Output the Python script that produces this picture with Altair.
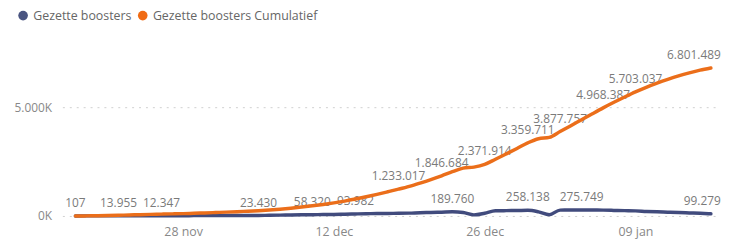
import altair as alt
import pandas as pd

FONT = "Open Sans"

start_date = "2021-11-18"
daily_boosters = [
    107, 3500, 6000, 8000, 13955, 14500, 13800, 13200, 12347, 11000,
    10500, 15000, 17000, 18000, 19500, 21000, 22000, 23430, 30000, 38000,
    45000, 52000, 58320, 65000, 72000, 80000, 93982, 105000, 112000, 118000,
    120876, 130000, 150000, 160000, 173667, 189760, 160000, 50000, 125470, 235000,
    245000, 249659, 258138, 190000, 60000, 268046, 272000, 275749, 274000, 268881,
    255000, 245000, 234650, 210000, 190000, 175000, 160000, 140000, 124173, 99279,
]
series_names = ["Gezette boosters", "Gezette boosters Cumulatief"]
series_colors = ["#414B7D", "#EB6E1A"]
legend_colors = ["#4A5581", "#F06B14"]
x_tick_dates = [(2021, 11, 28), (2021, 12, 12), (2021, 12, 26), (2022, 1, 9)]
y_ticks = [0, 5000000]
daily_label_idx = [0, 4, 8, 17, 22, 26, 35, 42, 47, 59]
cum_label_idx = [30, 34, 38, 42, 45, 49, 52, 59]

dates = pd.date_range(start_date, periods=len(daily_boosters))
cumulative = pd.Series(daily_boosters).cumsum().tolist()


def fmt(v):
    return f"{int(v):,}".replace(",", ".")


rows = []
for i, d in enumerate(dates):
    ds = d.strftime("%Y-%m-%dT00:00:00")
    rows.append(dict(date=ds, series=series_names[0], value=daily_boosters[i],
                     label=fmt(daily_boosters[i]) if i in daily_label_idx else "", idx=i))
    rows.append(dict(date=ds, series=series_names[1], value=cumulative[i],
                     label=fmt(cumulative[i]) if i in cum_label_idx else "", idx=i))
df = pd.DataFrame(rows)
last = len(daily_boosters) - 1

x_enc = alt.X(
    "date:T",
    scale=alt.Scale(domain=[alt.DateTime(year=2021, month=11, date=16, hours=19),
                            alt.DateTime(year=2022, month=1, date=16, hours=16)]),
    axis=alt.Axis(
        values=[alt.DateTime(year=y, month=m, date=d) for (y, m, d) in x_tick_dates],
        labelExpr="lower(timeFormat(datum.value, '%d %b'))",
        title=None, grid=False, domain=False, ticks=False, labelPadding=10,
        labelColor="#888888", labelFontSize=12.5, labelFont=FONT,
    ),
)
y_enc = alt.Y(
    "value:Q",
    scale=alt.Scale(domain=[0, 7500000], nice=False),
    axis=alt.Axis(
        values=y_ticks,
        labelExpr="replace(format(datum.value / 1000, ','), ',', '.') + 'K'",
        title=None, domain=False, ticks=False, grid=True, gridDash=[2, 5],
        gridColor="#cfcfcf", gridWidth=1, labelPadding=11,
        labelColor="#888888", labelFontSize=12, labelFont=FONT,
    ),
)

color_scale = alt.Scale(domain=series_names, range=series_colors)
legend_scale = alt.Scale(domain=series_names, range=legend_colors)

base = alt.Chart(df).encode(x=x_enc, y=y_enc)

texts = base.mark_text(dy=-13, fontSize=12, color="#7a7a7a", font=FONT).encode(
    text="label:N"
).transform_filter(f"datum.label != '' && datum.idx != {last}")

texts_last = base.mark_text(dy=-13, dx=10, align="right", fontSize=12,
                            color="#7a7a7a", font=FONT).encode(
    text="label:N"
).transform_filter(f"datum.label != '' && datum.idx == {last}")

lines = base.mark_line(strokeWidth=3.5, interpolate="monotone", strokeCap="round").encode(
    color=alt.Color("series:N", scale=color_scale, legend=None)
)

# legend-only layer (no data drawn)
legend_pts = base.mark_circle(size=95, opacity=1).encode(
    fill=alt.Fill(
        "series:N",
        scale=legend_scale,
        legend=alt.Legend(
            title=None, orient="none", legendX=-46, legendY=-44, direction="horizontal",
            symbolType="circle", symbolSize=95, symbolStrokeWidth=0, symbolOpacity=1,
            labelColor="#666666", labelFontSize=12.5, labelFont=FONT,
            labelOffset=4, columnPadding=5, labelLimit=400,
        ),
    )
).transform_filter("false")

chart = alt.layer(texts, texts_last, lines, legend_pts).resolve_scale(
    color="independent", fill="independent"
).resolve_legend(
    color="independent", fill="independent"
).properties(
    width=663, height=165,
    autosize=alt.AutoSizeParams(type="none"),
    padding={"left": 55, "top": 44, "right": 5, "bottom": 22},
    background="white",
).configure_view(stroke=None)

chart.save("out.html", embed_options={"renderer": "svg", "actions": False})
